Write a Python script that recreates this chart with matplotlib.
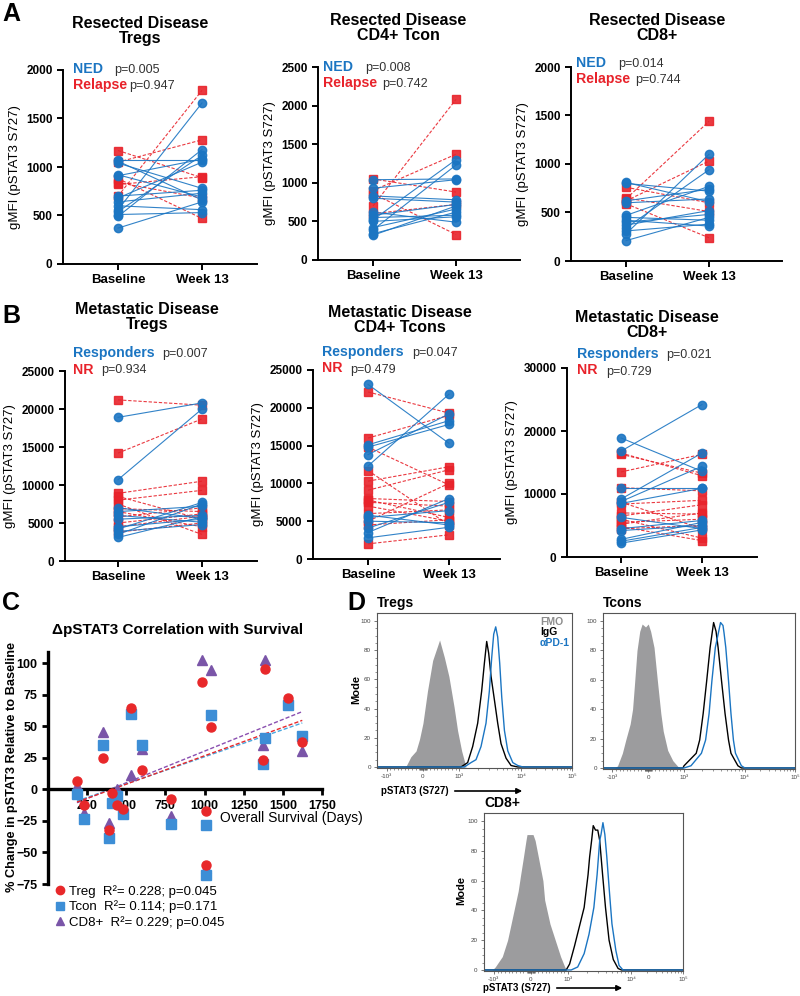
import numpy as np
import matplotlib.pyplot as plt
from matplotlib.lines import Line2D

plt.rcParams['font.family'] = ['Liberation Sans', 'DejaVu Sans']
plt.rcParams['font.weight'] = 'bold'

BLUE = '#1b75c2'
RED = '#e8232b'

# ---------------- A: resected disease, gMFI at baseline / week 13 ----------------
a_treg_ned_base = [370, 490, 510, 540, 560, 600, 640, 680, 700, 910, 920, 1040, 1060, 1070]
a_treg_ned_wk13 = [640, 1180, 530, 1120, 1660, 560, 730, 1050, 760, 1080, 690, 780, 660, 1070]
a_treg_rel_base = [1170, 1050, 880, 820, 700, 840]
a_treg_rel_wk13 = [890, 1280, 470, 900, 1790, 680]

a_tcon_ned_base = [320, 340, 390, 420, 500, 520, 550, 580, 620, 800, 830, 930, 1040]
a_tcon_ned_wk13 = [700, 620, 1230, 660, 560, 1300, 580, 720, 490, 750, 780, 1040, 1050]
a_tcon_rel_base = [700, 1050, 900, 860, 600]
a_tcon_rel_wk13 = [2080, 880, 1370, 330, 720]

a_cd8_ned_base = [210, 280, 310, 340, 370, 400, 420, 450, 470, 600, 620, 800, 810]
a_cd8_ned_wk13 = [450, 1100, 380, 940, 520, 480, 360, 420, 770, 640, 740, 720, 610]
a_cd8_rel_base = [640, 620, 760, 590, 650]
a_cd8_rel_wk13 = [1440, 1030, 600, 240, 510]

# ---------------- B: metastatic disease ----------------
b_treg_r_base = [18900, 10700, 3100, 3500, 3900, 4200, 4500, 5500, 6000, 6500, 7000]
b_treg_r_wk13 = [20800, 20000, 5800, 7500, 4800, 7700, 5500, 6000, 5100, 7200, 5600]
b_treg_nr_base = [21200, 14200, 8900, 8500, 8000, 7500, 6900, 6500, 5800, 5000, 4500, 3800]
b_treg_nr_wk13 = [20500, 18700, 10500, 5500, 9300, 3500, 6500, 4500, 7000, 6200, 5900, 5000]

b_tcon_r_base = [23100, 15100, 14800, 13800, 12300, 5800, 5500, 4100, 3500, 2800, 5000]
b_tcon_r_wk13 = [15300, 18300, 17800, 19200, 21800, 4500, 6400, 7500, 8000, 4200, 4800]
b_tcon_nr_base = [22100, 16000, 14800, 11700, 10300, 9100, 8000, 7800, 7500, 7000, 6000, 5000, 4500, 2000]
b_tcon_nr_wk13 = [19300, 19000, 9800, 4500, 12200, 11800, 7600, 5500, 7000, 5000, 6500, 10000, 5200, 3200]

b_cd8_r_base = [16800, 18900, 9200, 8800, 11000, 8500, 6300, 4500, 4200, 2800, 2500, 2200]
b_cd8_r_wk13 = [24200, 13600, 16500, 14400, 11000, 10900, 4500, 5800, 5000, 5500, 4700, 4300]
b_cd8_nr_base = [16500, 16300, 13500, 11000, 8700, 8400, 7000, 6500, 6000, 5500, 5200, 4800, 4500]
b_cd8_nr_wk13 = [12900, 13300, 16300, 10500, 4500, 9000, 6800, 8300, 3000, 6000, 7000, 2600, 5000]

# ---------------- C: % change vs overall survival ----------------
treg_days = [185, 228, 351, 387, 409, 440, 479, 528, 600, 787, 985, 1011, 1011, 1041, 1370, 1387, 1530, 1624]
treg_chg = [6.6, -12.6, 24.7, -32.4, -3.2, -12.6, -15.3, 64.7, 15.8, -7.9, 85.3, -17.4, -60, 49.7, 23.2, 95.5, 72.6, 37.4]
tcon_days = [185, 230, 351, 387, 409, 440, 479, 528, 600, 787, 1011, 1011, 1041, 1370, 1387, 1530, 1624]
tcon_chg = [-3.4, -23.2, 35.5, -38.4, -10.8, -5.3, -19.5, 60, 35.5, -27.1, -28.2, -68.2, 58.7, 20.5, 40.5, 66.6, 42.1]
cd8_days = [185, 230, 351, 387, 440, 528, 600, 787, 985, 1011, 1041, 1370, 1387, 1624]
cd8_chg = [2.6, -18.4, 45.3, -26.3, 0, 11.8, 32.1, -21, 103, -62.6, 94.7, 35.5, 103, 30.8]
# linear fits as drawn in the figure (slope per day, intercept), Treg / Tcon / CD8+
fit_slope = [0.0450, 0.0430, 0.0502]
fit_icpt = [-18.3, -17.1, -19.8]

# ---------------- D: flow histograms (fluorescence, % of mode) ----------------
treg_fmo_x = [-476, -333, -190, -95, 0, 124, 267, 457, 590, 714, 857, 952, 1091, 1283]
treg_fmo_y = [0, 7, 11, 19, 30, 52, 73, 87, 75, 62, 41, 25, 11, 0]
treg_igg_x = [1064, 1365, 1645, 1983, 2300, 2544, 2775, 2987, 3264, 3697, 4182, 4732, 5710, 6877, 8824]
treg_igg_y = [0, 3, 14, 30, 52, 71, 86, 78, 62, 46, 30, 16, 6, 1, 0]
treg_pd1_x = [1205, 1546, 1863, 2245, 2704, 3064, 3345, 3604, 3882, 4182, 4507, 4858, 5372, 6090, 7336, 8836, 10826]
treg_pd1_y = [0, 3, 5, 14, 30, 52, 75, 91, 96, 89, 71, 48, 25, 11, 3, 1, 0]

tcon_fmo_x = [-933, -857, -724, -629, -505, -438, -381, -314, -238, -171, -76, 0, 67, 162, 257, 352, 419, 543, 686, 829, 895]
tcon_fmo_y = [0, 1.5, 10, 19, 30, 40, 58, 80, 93, 98, 96, 98, 93, 82, 59, 37, 25, 12, 5, 1, 0]
tcon_igg_x = [970, 1000, 1585, 1807, 2062, 2352, 2683, 3061, 3357, 3630, 4140, 4722, 5385, 5906, 7681, 8759]
tcon_igg_y = [0, 1.5, 10, 19, 37, 59, 82, 99, 93, 82, 59, 37, 19, 10, 1.5, 0]
tcon_pd1_x = [1000, 1301, 1930, 2261, 2580, 2865, 3268, 3981, 4366, 4540, 4853, 5391, 5906, 6479, 7004, 8759, 10000]
tcon_pd1_y = [0, 1.5, 10, 19, 37, 59, 82, 99, 97, 92, 82, 59, 37, 19, 10, 1.5, 0]

cd8_fmo_x = [-1057, -962, -771, -629, -533, -438, -343, -276, -200, -133, -105, 0, 57, 114, 200, 324, 371, 514, 657, 800, 914, 971]
cd8_fmo_y = [0, 2, 9, 20, 31, 42, 53, 64, 76, 87, 91, 91, 91, 87, 76, 60, 47, 31, 20, 9, 2, 0]
cd8_igg_x = [952, 1061, 1267, 1512, 1804, 2080, 2204, 2368, 2513, 2729, 2966, 3183, 3538, 3932, 4481, 5227, 6228, 7023]
cd8_igg_y = [0, 4, 16, 29, 42, 64, 76, 87, 97, 94, 94, 87, 64, 42, 20, 7, 1, 0]
cd8_pd1_x = [1125, 1425, 1804, 2154, 2572, 2894, 3183, 3339, 3581, 3842, 4123, 4530, 4976, 5744, 6457, 7438]
cd8_pd1_y = [0, 2, 11, 24, 42, 64, 87, 91, 99, 91, 76, 53, 31, 13, 3, 0]


W, H = 800, 996
fig = plt.figure(figsize=(W / 100, H / 100), dpi=100)


def add_ax(x0, y0, x1, y1):
    return fig.add_axes([x0 / W, 1 - y1 / H, (x1 - x0) / W, (y1 - y0) / H])


def txt(x, y, s, **kw):
    kw.setdefault('va', 'center')
    return fig.text(x / W, 1 - y / H, s, **kw)


def paired(box, cats, ymax, step, good, bad, title, title_xy, names, pvals, lab_xy, p_x):
    x0, y0, x1, y1 = box
    ax = add_ax(x0, y0, x1, y1)
    for b, w in zip(*bad):
        ax.plot([0, 1], [b, w], color=RED, ls=(0, (3, 1.6)), lw=0.8, alpha=0.9,
                marker='s', ms=6, mec=RED, zorder=2)
    for b, w in zip(*good):
        ax.plot([0, 1], [b, w], color=BLUE, lw=0.8, alpha=0.9,
                marker='o', ms=6, mec=BLUE, zorder=3)
    u = cats[1] - cats[0]
    ax.set_xlim((x0 - cats[0]) / u, 1 + (x1 - cats[1]) / u)
    ax.set_ylim(0, ymax)
    ax.set_xticks([0, 1], ['Baseline', 'Week 13'])
    ax.set_yticks(np.arange(0, ymax + 1, step))
    ax.tick_params(width=1.4, length=4, labelsize=8.5)
    ax.tick_params(axis='x', labelsize=9.5)
    for s in ['top', 'right']:
        ax.spines[s].set_visible(False)
    for s in ['left', 'bottom']:
        ax.spines[s].set_linewidth(1.4)
    ax.set_ylabel('gMFI (pSTAT3 S727)', fontsize=9.5, labelpad=4)
    txt(title_xy[0], title_xy[1], title, ha='center', fontsize=11.5, linespacing=1.05)
    lx, ly = lab_xy
    txt(lx, ly, names[0], color=BLUE, fontsize=10.2)
    txt(lx, ly + 16.5, names[1], color=RED, fontsize=10.2)
    txt(p_x[0], ly + 1, pvals[0], color='#333333', fontsize=9, fontweight='normal')
    txt(p_x[1], ly + 17.5, pvals[1], color='#333333', fontsize=9, fontweight='normal')
    return ax


# ---- panel A ----
paired((63, 70, 257, 264), (118, 202), 2000, 500,
       (a_treg_ned_base, a_treg_ned_wk13), (a_treg_rel_base, a_treg_rel_wk13),
       'Resected Disease\nTregs', (140, 31), ('NED', 'Relapse'), ('p=0.005', 'p=0.947'),
       (73, 69), (114, 129))
paired((318, 67, 520, 260), (373, 456), 2500, 500,
       (a_tcon_ned_base, a_tcon_ned_wk13), (a_tcon_rel_base, a_tcon_rel_wk13),
       'Resected Disease\nCD4+ Tcon', (398, 28), ('NED', 'Relapse'), ('p=0.008', 'p=0.742'),
       (323, 67), (365, 382))
paired((571, 67, 782, 261), (626, 709), 2000, 500,
       (a_cd8_ned_base, a_cd8_ned_wk13), (a_cd8_rel_base, a_cd8_rel_wk13),
       'Resected Disease\nCD8+', (657, 28), ('NED', 'Relapse'), ('p=0.014', 'p=0.744'),
       (576, 63), (618, 635))

# ---- panel B ----
paired((65, 371, 257, 561), (118, 202), 25000, 5000,
       (b_treg_r_base, b_treg_r_wk13), (b_treg_nr_base, b_treg_nr_wk13),
       'Metastatic Disease\nTregs', (147, 317), ('Responders', 'NR'), ('p=0.007', 'p=0.934'),
       (73, 353), (162, 101))
paired((313, 370, 500, 559), (368, 449), 25000, 5000,
       (b_tcon_r_base, b_tcon_r_wk13), (b_tcon_nr_base, b_tcon_nr_wk13),
       'Metastatic Disease\nCD4+ Tcons', (400, 320), ('Responders', 'NR'), ('p=0.047', 'p=0.479'),
       (322, 352), (412, 350))
paired((567, 368, 757, 557), (621, 702), 30000, 10000,
       (b_cd8_r_base, b_cd8_r_wk13), (b_cd8_nr_base, b_cd8_nr_wk13),
       'Metastatic Disease\nCD8+', (647, 325), ('Responders', 'NR'), ('p=0.021', 'p=0.729'),
       (577, 354), (666, 606))

# ---- panel C ----
axc = add_ax(48, 652, 322, 884)
series = [(cd8_days, cd8_chg, '^', '#7a55a8', '#8a4fb0', fit_slope[2], fit_icpt[2]),
          (tcon_days, tcon_chg, 's', '#3d8ed6', '#4aa8e0', fit_slope[1], fit_icpt[1]),
          (treg_days, treg_chg, 'o', '#e8282a', '#e8282a', fit_slope[0], fit_icpt[0])]
for d, v, m, c, lc, k, b0 in series:
    axc.plot(d, v, m, color=c, ms=6.5, ls='none', zorder=3)
for d, v, m, c, lc, k, b0 in series:
    xs = np.array([min(d), max(d)])
    axc.plot(xs, k * xs + b0, color=lc, ls=(0, (3, 1.5)), lw=1.0, zorder=2)
axc.set_xlim(0, 1750)
axc.set_ylim(-75, 109)
axc.spines['bottom'].set_position(('data', 0))
for s in ['top', 'right']:
    axc.spines[s].set_visible(False)
for s in ['left', 'bottom']:
    axc.spines[s].set_linewidth(2.4)
axc.set_xticks(np.arange(250, 1751, 250))
axc.set_yticks(np.arange(-75, 101, 25))
axc.tick_params(width=2, length=4, labelsize=9)
txt(178, 630, '\u0394pSTAT3 Correlation with Survival', ha='center', fontsize=11)
txt(220, 818, 'Overall Survival (Days)', fontsize=10, fontweight='medium')
txt(12, 767, '% Change in pSTAT3 Relative to Baseline', rotation=90, ha='center', fontsize=9.2)
hs = [Line2D([], [], marker='o', color='#e8282a', ls='none', ms=6),
      Line2D([], [], marker='s', color='#3d8ed6', ls='none', ms=6),
      Line2D([], [], marker='^', color='#7a55a8', ls='none', ms=6)]
lab = ['Treg  R\u00b2= 0.228; p=0.045', 'Tcon  R\u00b2= 0.114; p=0.171', 'CD8+  R\u00b2= 0.229; p=0.045']
leg = axc.legend(hs, lab, loc='upper left', bbox_to_anchor=(0.03, -0.005), frameon=False,
                 handlelength=0.6, handletextpad=0.35, labelspacing=0.2, borderpad=0,
                 borderaxespad=0, prop={'size': 9.5, 'weight': 'normal'})

# ---- panel D: flow histograms on a logicle-like axis ----
DEC = [0, 1.7, 3.1, 4.5]


def fwd(x):
    x = np.asarray(x, float)
    a = np.abs(x)
    lg = np.log10(np.maximum(a, 1e3) / 1e3)
    return np.sign(x) * np.where(a <= 1e3, a / 1e3, 1 + np.interp(lg, [0, 1, 2, 3], DEC))


def inv(u):
    u = np.asarray(u, float)
    a = np.abs(u)
    return np.sign(u) * np.where(a <= 1, a * 1e3, 1e3 * 10 ** np.interp(a - 1, DEC, [0, 1, 2, 3]))


XMIN, XMAX = -1430, 1e5


def flow(box, title, fmo, igg, pd1):
    ax = add_ax(*box)
    ax.set_xscale('function', functions=(fwd, inv))
    ax.fill_between(fmo[0], fmo[1], color='#9c9c9e', lw=0)
    ax.plot(np.r_[XMIN, igg[0], XMAX], np.r_[0, igg[1], 0], color='black', lw=1.0)
    ax.plot(np.r_[XMIN, pd1[0], XMAX], np.r_[0, pd1[1], 0], color=BLUE, lw=1.0)
    ax.set_xlim(XMIN, XMAX)
    ax.set_ylim(-0.7, 105.5)
    ax.set_xticks([-1e3, 0, 1e3, 1e4, 1e5], ['-10\u00b3', '0', '10\u00b3', '10\u2074', '10\u2075'])
    minors = list(np.arange(-900, 0, 100)) + list(np.arange(-90, 91, 15)) + list(np.arange(100, 1000, 100)) \
        + list(np.arange(2e3, 1e4, 1e3)) + list(np.arange(2e4, 1e5, 1e4))
    ax.set_xticks(minors, minor=True)
    ax.set_yticks(np.arange(0, 101, 20))
    ax.set_yticks(np.arange(0, 101, 5), minor=True)
    ax.tick_params(labelsize=4.5, length=2.5, width=0.5, colors='#444444', pad=2)
    ax.tick_params(which='minor', length=1.3, width=0.4, colors='#444444')
    for l in ax.get_xticklabels() + ax.get_yticklabels():
        l.set_fontweight('normal')
    for s in ax.spines.values():
        s.set_linewidth(0.8)
        s.set_color('#555555')
    txt(box[0], box[1] - 10, title, fontsize=10)
    return ax


flow((377, 613, 572, 768), 'Tregs', (treg_fmo_x, treg_fmo_y), (treg_igg_x, treg_igg_y), (treg_pd1_x, treg_pd1_y))
flow((603, 613, 795, 769), 'Tcons', (tcon_fmo_x, tcon_fmo_y), (tcon_igg_x, tcon_igg_y), (tcon_pd1_x, tcon_pd1_y))
flow((484, 813, 683, 971), 'CD8+', (cd8_fmo_x, cd8_fmo_y), (cd8_igg_x, cd8_igg_y), (cd8_pd1_x, cd8_pd1_y))

txt(540, 622, 'FMO', color='#8c8c8c', fontsize=7.5)
txt(540, 632, 'IgG', color='black', fontsize=7.5)
txt(540, 643, '\u03b1PD-1', color=BLUE, fontsize=7.5)
txt(356, 690, 'Mode', rotation=90, ha='center', fontsize=8)
txt(461, 890, 'Mode', rotation=90, ha='center', fontsize=8)
for x0, x1, y in [(381, 525, 791), (483, 625, 988)]:
    txt(x0, y, 'pSTAT3 (S727)', fontsize=7)
    fig.add_artist(plt.Annotation('', xy=(x1 / W, 1 - y / H), xytext=((x0 + 71) / W, 1 - y / H),
                                  xycoords='figure fraction', arrowprops=dict(arrowstyle='-|>', lw=1.2,
                                                                              color='black', mutation_scale=8)))

# panel letters
for s, x, y in [('A', 2, 14), ('B', 2, 316), ('C', 2, 603), ('D', 347, 603)]:
    txt(x, y, s, fontsize=18)

fig.savefig('out.png', dpi=100)
